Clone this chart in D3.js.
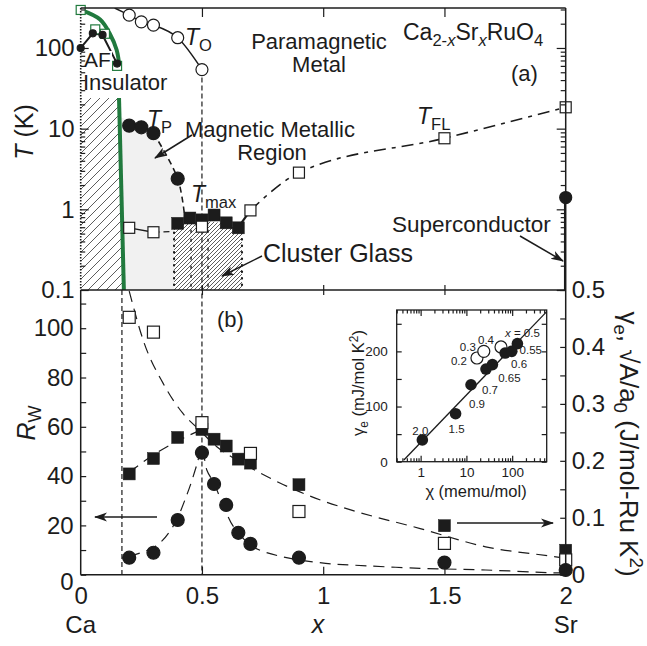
<!DOCTYPE html>
<html>
<head>
<meta charset="utf-8">
<script src="https://cdn.jsdelivr.net/npm/d3@7"></script>
<style>
  body { margin: 0; background: #fff; }
  svg text { font-family: "Liberation Sans", Arial, Helvetica, sans-serif; fill: #1c1c1c; }
</style>
</head>
<body>
<div id="chart"></div>
<script>
// Ca(2-x)Sr(x)RuO4 phase diagram (a) + Wilson ratio / gamma panel (b) + inset

// ---------- data ----------
// panel (a): temperatures (K) against Sr content x
var tnGreen = [[0, 296], [0.06, 170], [0.1, 150], [0.15, 60]];
var tnBlack = [[0, 100], [0.05, 152], [0.09, 145], [0.15, 64]];
var afLineUpper = [[0, 296], [0.08, 225], [0.12, 150], [0.148, 95], [0.16, 58]];
var afLineLower = [[0.158, 24], [0.178, 0.1]];
var afRegion = [[0, 24], [0.158, 24], [0.178, 0.1], [0, 0.1]];
var tO = [[0.2, 255], [0.25, 211], [0.3, 192], [0.4, 134], [0.5, 54]];
var tOStart = [[0.14, 313]];
var tP = [[0.2, 10.9], [0.25, 10.4], [0.3, 8.8], [0.4, 2.4]];
var tPTail = [[0.43, 0.75]];
var magRegion = [[0.16, 14], [0.2, 12.5], [0.3, 9.6], [0.4, 2.4], [0.425, 0.8],
  [0.385, 0.7], [0.385, 0.1], [0.178, 0.1]];
var glassRegion = [[0.385, 0.68], [0.45, 0.72], [0.55, 0.7], [0.665, 0.6], [0.665, 0.1], [0.385, 0.1]];
var glassEdges = [0.385, 0.455, 0.525, 0.665];
var tMax = [[0.4, 0.67], [0.45, 0.78], [0.5, 0.74], [0.55, 0.85], [0.6, 0.68], [0.65, 0.59]];
var tFL = [[0.2, 0.59], [0.3, 0.52], [0.5, 0.61], [0.7, 0.97], [0.9, 2.85], [1.5, 7.6], [2, 18.4]];
var tFLLowTail = [[0.3, 0.52], [0.37, 0.53]];
var tFLLink = [[0.65, 0.6], [0.7, 0.97]];
var tc = [[2, 1.4]];

// panel (b): left axis R_W (circles), right axis in J/mol-Ru K^2 (squares)
var rW = [[0.2, 6.9], [0.3, 8.9], [0.4, 22.2], [0.5, 49.5], [0.55, 36.8], [0.6, 28.3],
  [0.65, 17], [0.7, 12.5], [0.9, 6.9], [1.5, 4.9], [2, 1.9]];
var sqrtA = [[0.2, 0.177], [0.3, 0.204], [0.4, 0.241], [0.5, 0.255], [0.55, 0.238], [0.6, 0.226],
  [0.65, 0.203], [0.7, 0.196], [0.9, 0.158], [1.5, 0.086], [2, 0.043]];
var gammaE = [[0.2, 0.452], [0.3, 0.426], [0.5, 0.267], [0.7, 0.213], [0.9, 0.111], [1.5, 0.055], [2, 0.026]];
var fitGamma = [[0.2, 0.498], [0.26, 0.409], [0.34, 0.336], [0.42, 0.284], [0.49, 0.254], [0.56, 0.225],
  [0.66, 0.198], [0.77, 0.172], [0.99, 0.131], [1.12, 0.113], [1.4, 0.081], [1.67, 0.049], [1.95, 0.032], [2, 0.029]];
var fitRise = [[0.2, 0.18], [0.31, 0.213], [0.4, 0.235], [0.5, 0.255]];
var fitRw = [[0.2, 7.5], [0.31, 11.6], [0.38, 19.5], [0.44, 33], [0.48, 45], [0.5, 52], [0.52, 42.5],
  [0.55, 37], [0.59, 27.6], [0.63, 19.5], [0.71, 11.4], [0.83, 7.3], [1.01, 4.6], [1.12, 3.9],
  [1.4, 2.6], [1.67, 1.9], [1.94, 0.8], [2, 0.7]];
var guideX = [0.17, 0.5];

// inset: gamma_e (mJ/mol K^2) vs chi (memu/mol)
var inFilled = [[1.09, 39.5], [5.8, 87], [12.6, 139.5], [26.8, 168], [37, 176], [70, 197], [98, 200], [130, 214]];
var inFilledLab = ["2.0", "1.5", "0.9", "0.7", "0.65", "0.6", "0.55", "0.5"];
var inOpen = [[17, 188], [24, 200], [57, 208]];
var inOpenLab = ["0.2", "0.3", "0.4"];
var inFit = [[0.43, 3], [568, 272]];

// tick labels
var xTickLabels = ["0", "0.5", "1", "1.5", "2"];
var endLabels = ["Ca", "Sr"];

// ---------- layout ----------
var W = 647, H = 646;
var x0 = 80.7, x1 = 565.7;
var yTop = 8, yMid = 290, yBot = 574.7;
var ink = "#1c1c1c";
var green = "#217a3e";

var svg = d3.select("#chart").append("svg")
  .attr("width", W)
  .attr("height", H);

var x = d3.scaleLinear().domain([0, 2]).range([x0, x1]);
var yT = d3.scaleLog().domain([0.1, 313]).range([yMid, yTop]);
var yR = d3.scaleLinear().domain([0, 115.5]).range([yBot, yMid]);
var yG = d3.scaleLinear().domain([0, 0.5]).range([yBot, yMid]);

var defs = svg.append("defs");

// hatch patterns
function hatch(id, gap) {
  defs.append("pattern")
    .attr("id", id)
    .attr("patternUnits", "userSpaceOnUse")
    .attr("width", gap).attr("height", gap)
    .append("path")
    .attr("d", "M" + (-gap / 2) + "," + (gap / 2) + "L" + (gap / 2) + "," + (-gap / 2) +
      "M0," + gap + "L" + gap + ",0M" + (gap / 2) + "," + (gap * 1.5) + "L" + (gap * 1.5) + "," + (gap / 2))
    .attr("stroke", "#333").attr("stroke-width", 0.8);
}
hatch("hatchAF", 9);
hatch("hatchCG", 4);

defs.append("clipPath").attr("id", "clipA")
  .append("rect").attr("x", x0).attr("y", yTop).attr("width", x1 - x0).attr("height", yMid - yTop);
defs.append("clipPath").attr("id", "clipB")
  .append("rect").attr("x", x0).attr("y", yMid).attr("width", x1 - x0).attr("height", yBot - yMid);

defs.append("marker")
  .attr("id", "arr")
  .attr("viewBox", "0 -5 13 10")
  .attr("refX", 12).attr("refY", 0)
  .attr("markerWidth", 13).attr("markerHeight", 10)
  .attr("markerUnits", "userSpaceOnUse")
  .attr("orient", "auto")
  .append("path")
  .attr("d", "M0,-4.5L13,0L0,4.5L3.5,0Z")
  .attr("fill", ink);

// text helper with sub/superscripts
function label(parent, px, py, parts, size, opts) {
  opts = opts || {};
  var t = parent.append("text")
    .attr("x", px).attr("y", py)
    .attr("font-size", size)
    .attr("text-anchor", opts.anchor || "start");
  if (opts.rotate) t.attr("transform", "rotate(" + opts.rotate + "," + px + "," + py + ")");
  var cur = 0;
  parts.forEach(function(p) {
    if (typeof p === "string") p = { t: p };
    var shift = p.sub ? size * 0.24 : p.sup ? -size * 0.38 : 0;
    var s = t.append("tspan").text(p.t).attr("dy", shift - cur);
    cur = shift;
    if (p.sub || p.sup) s.attr("font-size", size * 0.72);
    if (p.i) s.attr("font-style", "italic");
  });
  return t;
}

function arrow(parent, xa, ya, xb, yb) {
  parent.append("line")
    .attr("x1", xa).attr("y1", ya).attr("x2", xb).attr("y2", yb)
    .attr("stroke", ink).attr("stroke-width", 1.5)
    .attr("marker-end", "url(#arr)");
}

// ================= panel (a) =================
var pa = svg.append("g").attr("clip-path", "url(#clipA)");
var lineT = d3.line().x(function(d) { return x(d[0]); }).y(function(d) { return yT(d[1]); });

pa.append("path").attr("d", lineT(magRegion) + "Z")
  .attr("fill", "#f1f1f1");
pa.append("path").attr("d", lineT(afRegion) + "Z").attr("fill", "url(#hatchAF)");
pa.append("path").attr("d", lineT(glassRegion) + "Z").attr("fill", "url(#hatchCG)");

glassEdges.forEach(function(gx, i) {
  var outer = i === 0 || i === glassEdges.length - 1;
  pa.append("line")
    .attr("x1", x(gx)).attr("x2", x(gx))
    .attr("y1", yT(outer ? 0.62 : 0.55)).attr("y2", yT(0.1))
    .attr("stroke", ink)
    .attr("stroke-width", outer ? 2.2 : 1.4)
    .attr("stroke-linecap", "round")
    .attr("stroke-dasharray", outer ? "0.5,6" : "2,7");
});

// x = 0.5 guide from T_O down through panel (b), x = 0.17 guide in panel (b)
svg.append("line")
  .attr("x1", x(guideX[1])).attr("x2", x(guideX[1]))
  .attr("y1", yT(tO[tO.length - 1][1])).attr("y2", yBot)
  .attr("stroke", ink).attr("stroke-width", 1.2).attr("stroke-dasharray", "5,3");
svg.append("line")
  .attr("x1", x(guideX[0])).attr("x2", x(guideX[0]))
  .attr("y1", yMid).attr("y2", yBot)
  .attr("stroke", ink).attr("stroke-width", 1.2).attr("stroke-dasharray", "5,3");

// curves
var smoothT = d3.line().x(function(d) { return x(d[0]); }).y(function(d) { return yT(d[1]); })
  .curve(d3.curveMonotoneX);
var roundT = d3.line().x(function(d) { return x(d[0]); }).y(function(d) { return yT(d[1]); })
  .curve(d3.curveCatmullRom);
pa.append("path").attr("d", smoothT(tOStart.concat(tO)))
  .attr("fill", "none").attr("stroke", ink).attr("stroke-width", 1.5);
pa.append("path").attr("d", roundT(afLineUpper))
  .attr("fill", "none").attr("stroke", green).attr("stroke-width", 4);
pa.append("path").attr("d", lineT(afLineLower))
  .attr("fill", "none").attr("stroke", green).attr("stroke-width", 4);
pa.append("path").attr("d", lineT(tnBlack))
  .attr("fill", "none").attr("stroke", ink).attr("stroke-width", 2);
pa.append("path").attr("d", roundT(tP.slice(2).concat(tPTail)))
  .attr("fill", "none").attr("stroke", ink).attr("stroke-width", 1.6).attr("stroke-dasharray", "6,4");
pa.append("path").attr("d", lineT(tFL.slice(0, 2)))
  .attr("fill", "none").attr("stroke", ink).attr("stroke-width", 1.3);
pa.append("path").attr("d", lineT(tFLLowTail))
  .attr("fill", "none").attr("stroke", ink).attr("stroke-width", 1.3).attr("stroke-dasharray", "6,4");
pa.append("path").attr("d", lineT(tFLLink))
  .attr("fill", "none").attr("stroke", ink).attr("stroke-width", 2.2);
pa.append("path").attr("d", smoothT(tFL.slice(3)))
  .attr("fill", "none").attr("stroke", ink).attr("stroke-width", 1.6).attr("stroke-dasharray", "12,6,4,6");
pa.append("line")
  .attr("x1", x(tc[0][0])).attr("x2", x(tc[0][0]))
  .attr("y1", yT(tc[0][1])).attr("y2", yT(0.1))
  .attr("stroke", ink).attr("stroke-width", 3.5);

// markers
function squares(g, data, ys, size, filled, color) {
  g.selectAll(null).data(data).enter().append("rect")
    .attr("x", function(d) { return x(d[0]) - size / 2; })
    .attr("y", function(d) { return ys(d[1]) - size / 2; })
    .attr("width", size).attr("height", size)
    .attr("fill", filled ? (color || ink) : "#fff")
    .attr("stroke", color || ink).attr("stroke-width", filled ? 0.5 : 1.2);
}
function dots(g, data, ys, r, filled) {
  g.selectAll(null).data(data).enter().append("circle")
    .attr("cx", function(d) { return x(d[0]); })
    .attr("cy", function(d) { return ys(d[1]); })
    .attr("r", r)
    .attr("fill", filled ? ink : "#fff")
    .attr("stroke", ink).attr("stroke-width", 1.2);
}

var ma = svg.append("g");
squares(ma, tnGreen, yT, 9, false, green);
dots(ma, tnBlack, yT, 3.5, true);
dots(ma, tO, yT, 6, false);
dots(ma, tP, yT, 6.5, true);
squares(ma, tMax, yT, 12, true);
squares(ma, tFL, yT, 11, false);
dots(ma, tc, yT, 6, true);

// panel (a) annotations
var ann = svg.append("g");
ann.append("rect").attr("x", 83).attr("y", 51).attr("width", 29).attr("height", 18).attr("fill", "#fff");
ann.append("rect").attr("x", 83).attr("y", 72).attr("width", 89).attr("height", 21).attr("fill", "#fff");
label(ann, 84, 67, ["AF"], 21);
label(ann, 83, 90, ["Insulator"], 22);
label(ann, 403, 40, ["Ca", { t: "2-", sub: 1 }, { t: "x", sub: 1, i: 1 }, "Sr", { t: "x", sub: 1, i: 1 },
  "RuO", { t: "4", sub: 1 }], 23);
label(ann, 511, 81, ["(a)"], 22);
label(ann, 319, 49, ["Paramagnetic"], 22, { anchor: "middle" });
label(ann, 319, 72, ["Metal"], 22, { anchor: "middle" });
label(ann, 185, 45, [{ t: "T", i: 1 }, { t: "O", sub: 1 }], 23);
label(ann, 147, 127, [{ t: "T", i: 1 }, { t: "P", sub: 1 }], 23);
label(ann, 270, 137, ["Magnetic Metallic"], 22, { anchor: "middle" });
label(ann, 272, 160, ["Region"], 22, { anchor: "middle" });
label(ann, 191, 202, [{ t: "T", i: 1 }, { t: "max", sub: 1 }], 23);
label(ann, 263, 262, ["Cluster Glass"], 25);
label(ann, 417, 124, [{ t: "T", i: 1 }, { t: "FL", sub: 1 }], 23);
label(ann, 392, 232, ["Superconductor"], 22.5);
arrow(ann, 192, 135, 155, 158);
arrow(ann, 262, 256, 222, 276);
arrow(ann, 520, 236, 563, 261);

// ================= panel (b) =================
var pb = svg.append("g").attr("clip-path", "url(#clipB)");
var lineG = d3.line().x(function(d) { return x(d[0]); }).y(function(d) { return yG(d[1]); }).curve(d3.curveMonotoneX);
var roundR = d3.line().x(function(d) { return x(d[0]); }).y(function(d) { return yR(d[1]); }).curve(d3.curveCatmullRom);
pb.append("path").attr("d", lineG(fitGamma))
  .attr("fill", "none").attr("stroke", ink).attr("stroke-width", 1.2).attr("stroke-dasharray", "11,7");
pb.append("path").attr("d", lineG(fitRise))
  .attr("fill", "none").attr("stroke", ink).attr("stroke-width", 1.2).attr("stroke-dasharray", "11,7");
pb.append("path").attr("d", roundR(fitRw))
  .attr("fill", "none").attr("stroke", ink).attr("stroke-width", 1.2).attr("stroke-dasharray", "11,7");

var mb = svg.append("g");
squares(mb, sqrtA, yG, 12, true);
squares(mb, gammaE, yG, 12, false);
dots(mb, rW, yR, 6.5, true);

label(svg, 217, 327, ["(b)"], 22);
arrow(svg, 157, 517, 95, 517);
arrow(svg, 457, 523, 553, 523);

// ================= axes & frame =================
var frame = svg.append("g").attr("stroke", ink).attr("fill", "none");
frame.append("line").attr("x1", x0).attr("x2", x1).attr("y1", yTop).attr("y2", yTop).attr("stroke-width", 1.5);
frame.append("line").attr("x1", x0).attr("x2", x1).attr("y1", yMid).attr("y2", yMid).attr("stroke-width", 1.5);
frame.append("line").attr("x1", x0).attr("x2", x1).attr("y1", yBot).attr("y2", yBot).attr("stroke-width", 1.5);
frame.append("line").attr("x1", x1).attr("x2", x1).attr("y1", yTop).attr("y2", yBot).attr("stroke-width", 1.5);
frame.append("line").attr("x1", x0).attr("x2", x0).attr("y1", yMid).attr("y2", yBot).attr("stroke-width", 1.5);
frame.append("line").attr("x1", x0).attr("x2", x0).attr("y1", yTop).attr("y2", yMid)
  .attr("stroke-width", 1.6).attr("stroke-dasharray", "1.5,1.5");

function isDecade(d) {
  var l = Math.log10(d);
  return Math.abs(l - Math.round(l)) < 1e-6;
}
function styleAxis(g, size) {
  g.attr("font-size", size).attr("font-family", null);
  g.select(".domain").remove();
  g.selectAll(".tick line").attr("stroke", ink).attr("stroke-width", 1.2);
  g.selectAll(".tick text").attr("fill", ink);
}

var tickFont = 24;
var logTicks = yT.ticks();
var aL = svg.append("g").attr("transform", "translate(" + x0 + ",0)")
  .call(d3.axisLeft(yT).tickValues(logTicks).tickSize(0).tickPadding(6)
    .tickFormat(function(d) { return isDecade(d) ? (d < 1 ? "0.1" : String(Math.round(d))) : ""; }));
styleAxis(aL, tickFont);
aL.selectAll(".tick line").attr("x2", function(d) { return isDecade(d) ? 8 : 4.5; });

var aR = svg.append("g").attr("transform", "translate(" + x1 + ",0)")
  .call(d3.axisRight(yT).tickValues(logTicks).tickSize(0).tickFormat(""));
styleAxis(aR, tickFont);
aR.selectAll(".tick line").attr("x2", function(d) { return isDecade(d) ? -9 : -5; });

var aTop = svg.append("g").attr("transform", "translate(0," + yTop + ")")
  .call(d3.axisTop(x).tickValues([0.5, 1, 1.5]).tickSize(-9).tickFormat(""));
styleAxis(aTop, tickFont);

var aMid = svg.append("g").attr("transform", "translate(0," + yMid + ")")
  .call(d3.axisBottom(x).tickValues([0.5, 1, 1.5]).tickSize(5).tickFormat(""));
styleAxis(aMid, tickFont);
aMid.selectAll(".tick line").attr("y1", -5);

var aBot = svg.append("g").attr("transform", "translate(0," + yBot + ")")
  .call(d3.axisBottom(x).tickValues([0, 0.5, 1, 1.5, 2]).tickSize(0).tickPadding(12)
    .tickFormat(function(d, i) { return xTickLabels[i]; }));
styleAxis(aBot, tickFont);
aBot.selectAll(".tick line").attr("y2", function(d) { return d > 0 && d < 2 ? -8 : 0; });

var aRw = svg.append("g").attr("transform", "translate(" + x0 + ",0)")
  .call(d3.axisLeft(yR).tickValues(d3.range(0, 111, 10)).tickSize(0).tickPadding(7)
    .tickFormat(function(d) { return d % 20 === 0 ? d : ""; }));
styleAxis(aRw, tickFont);
aRw.selectAll(".tick line").attr("x2", 5.5);
aRw.selectAll(".tick text").filter(function(d) { return d === 0; }).attr("dy", "0.6em");

var aGm = svg.append("g").attr("transform", "translate(" + x1 + ",0)")
  .call(d3.axisRight(yG).tickValues(d3.range(0, 0.501, 0.05)).tickSize(0).tickPadding(6)
    .tickFormat(function(d) {
      var k = Math.round(d * 20);
      if (k % 2) return "";
      return k === 0 ? "0" : d3.format(".1f")(d);
    }));
styleAxis(aGm, tickFont);
aGm.selectAll(".tick line").attr("x2", -5.5);

// axis titles
label(svg, x(0), 633, [endLabels[0]], 24, { anchor: "middle" });
label(svg, x(2), 633, [endLabels[1]], 24, { anchor: "middle" });
label(svg, 318, 633, [{ t: "x", i: 1 }], 25, { anchor: "middle" });
label(svg, 33, 132, [{ t: "T", i: 1 }, " (K)"], 25, { anchor: "middle", rotate: -90 });
label(svg, 35, 423, [{ t: "R", i: 1 }, { t: "W", sub: 1 }], 25, { anchor: "middle", rotate: -90 });
label(svg, 620, 444, ["γ", { t: "e", sub: 1 }, ", √A/a", { t: "0", sub: 1 }, " (J/mol-Ru K", { t: "2", sup: 1 }, ")"],
  26, { anchor: "middle", rotate: 90 });

// ================= inset =================
var ix0 = 396.7, ix1 = 546.7, iy0 = 310, iy1 = 461.7;
var ix = d3.scaleLog().domain([0.3, 568]).range([ix0, ix1]);
var iy = d3.scaleLinear().domain([0, 275]).range([iy1, iy0]);
var inset = svg.append("g");
inset.append("rect").attr("x", ix0).attr("y", iy0).attr("width", ix1 - ix0).attr("height", iy1 - iy0)
  .attr("fill", "#fff").attr("stroke", ink).attr("stroke-width", 1.3);

var inTicks = ix.ticks().filter(function(d) { return d >= 0.3 && d <= 568; });
var ibx = inset.append("g").attr("transform", "translate(0," + iy1 + ")")
  .call(d3.axisBottom(ix).tickValues(inTicks).tickSize(0).tickPadding(6)
    .tickFormat(function(d) { return d === 1 || d === 10 || d === 100 ? String(d) : ""; }));
styleAxis(ibx, 13.5);
ibx.selectAll(".tick line").attr("y2", function(d) { return isDecade(d) ? -6 : -3.5; });
var itx = inset.append("g").attr("transform", "translate(0," + iy0 + ")")
  .call(d3.axisTop(ix).tickValues(inTicks).tickSize(0).tickFormat(""));
styleAxis(itx, 13.5);
itx.selectAll(".tick line").attr("y2", function(d) { return isDecade(d) ? 6 : 3.5; });
var ily = inset.append("g").attr("transform", "translate(" + ix0 + ",0)")
  .call(d3.axisLeft(iy).tickValues(d3.range(0, 251, 50)).tickSize(0).tickPadding(9)
    .tickFormat(function(d) { return d % 100 === 0 ? d : ""; }));
styleAxis(ily, 13.5);
ily.selectAll(".tick line").attr("x2", 5);
var iry = inset.append("g").attr("transform", "translate(" + ix1 + ",0)")
  .call(d3.axisRight(iy).tickValues(d3.range(0, 251, 50)).tickSize(0).tickFormat(""));
styleAxis(iry, 13.5);
iry.selectAll(".tick line").attr("x2", -5);

var ilin = d3.line().x(function(d) { return ix(d[0]); }).y(function(d) { return iy(d[1]); });
inset.append("path").attr("d", ilin(inFit)).attr("fill", "none").attr("stroke", ink).attr("stroke-width", 1.3);

inset.selectAll(null).data(inOpen).enter().append("circle")
  .attr("cx", function(d) { return ix(d[0]); }).attr("cy", function(d) { return iy(d[1]); })
  .attr("r", 6).attr("fill", "#fff").attr("stroke", ink).attr("stroke-width", 1.2);
inset.selectAll(null).data(inFilled).enter().append("circle")
  .attr("cx", function(d) { return ix(d[0]); }).attr("cy", function(d) { return iy(d[1]); })
  .attr("r", 5.8).attr("fill", ink);

// point labels: offsets from the point, in pixels (centre, baseline)
var filledOff = [[-2, -5], [1, 19], [6, 23], [4, 25], [17, 17], [14, 15], [19, 3], [5, -7]];
var openOff = [[-18, 7], [-16, 0], [-15, -3]];
var inLabFont = 11.5;
inFilled.forEach(function(d, i) {
  var px = ix(d[0]) + filledOff[i][0], py = iy(d[1]) + filledOff[i][1];
  if (i === inFilled.length - 1) {
    label(inset, px, py, [{ t: "x", i: 1 }, " = " + inFilledLab[i]], inLabFont, { anchor: "middle" });
  } else {
    label(inset, px, py, [inFilledLab[i]], inLabFont, { anchor: "middle" });
  }
});
inOpen.forEach(function(d, i) {
  label(inset, ix(d[0]) + openOff[i][0], iy(d[1]) + openOff[i][1], [inOpenLab[i]], inLabFont, { anchor: "middle" });
});

label(inset, 476, 497, ["χ (memu/mol)"], 16.5, { anchor: "middle" });
label(inset, 364, 383, ["γ", { t: "e", sub: 1 }, " (mJ/mol K", { t: "2", sup: 1 }, ")"], 16.5,
  { anchor: "middle", rotate: -90 });
</script>
</body>
</html>
